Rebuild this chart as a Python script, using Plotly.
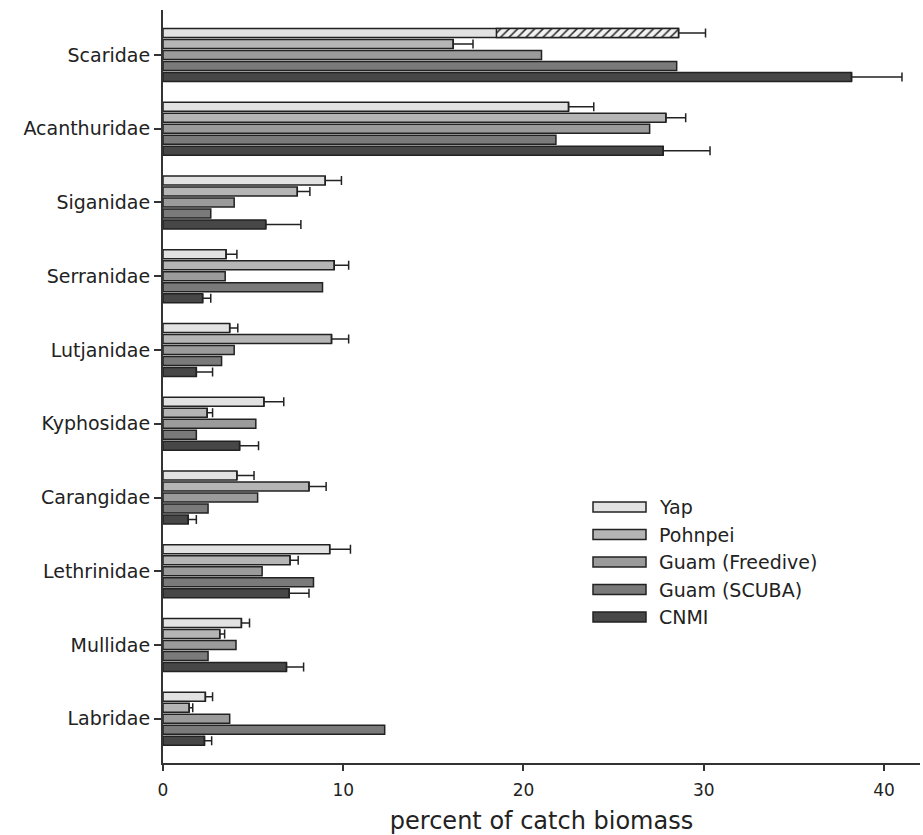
import plotly.graph_objects as go

families = ["Scaridae", "Acanthuridae", "Siganidae", "Serranidae", "Lutjanidae",
            "Kyphosidae", "Carangidae", "Lethrinidae", "Mullidae", "Labridae"]

series_names = ["Yap", "Pohnpei", "Guam (Freedive)", "Guam (SCUBA)", "CNMI"]

yap = [28.6, 22.5, 9.0, 3.5, 3.7, 5.6, 4.1, 9.25, 4.35, 2.35]
yap_err = [1.5, 1.4, 0.9, 0.6, 0.45, 1.1, 0.95, 1.15, 0.45, 0.4]
yap_hatch_start = [18.5, None, None, None, None, None, None, None, None, None]

pohnpei = [16.1, 27.9, 7.45, 9.5, 9.35, 2.45, 8.1, 7.05, 3.15, 1.45]
pohnpei_err = [1.1, 1.1, 0.7, 0.8, 0.95, 0.3, 0.95, 0.45, 0.27, 0.2]

guam_freedive = [21.0, 27.0, 3.95, 3.45, 3.95, 5.15, 5.25, 5.5, 4.05, 3.7]
guam_scuba = [28.5, 21.8, 2.65, 8.85, 3.25, 1.85, 2.5, 8.35, 2.5, 12.3]

cnmi = [38.2, 27.75, 5.7, 2.2, 1.85, 4.25, 1.4, 7.0, 6.85, 2.3]
cnmi_err = [2.8, 2.6, 1.95, 0.45, 0.9, 1.05, 0.45, 1.1, 0.95, 0.4]

colors = ["#e2e2e2", "#b5b5b5", "#9b9b9b", "#7a7a7a", "#474747"]
edge = "#222222"
font_fam = "DejaVu Sans, Liberation Sans, Arial, sans-serif"

fig = go.Figure()

def errx(vals):
    if vals is None:
        return None
    return dict(type="data", array=vals, arrayminus=[0] * len(vals), symmetric=False,
                color=edge, thickness=1.5, width=4.5)

values = [yap, pohnpei, guam_freedive, guam_scuba, cnmi]
errs = [yap_err, pohnpei_err, None, None, cnmi_err]
groups = ["yap", "pohnpei", "gf", "gs", "cnmi"]

for name, vals, err, col, grp in zip(series_names, values, errs, colors, groups):
    fig.add_trace(go.Bar(
        y=families, x=vals, orientation="h", name=name, offsetgroup=grp,
        marker=dict(color=col, line=dict(color=edge, width=1.5)),
        error_x=errx(err), showlegend=False,
    ))
    if grp == "yap":
        hy, hx, hb = [], [], []
        for f, v, s in zip(families, yap, yap_hatch_start):
            if s is not None:
                hy.append(f)
                hx.append(v - s)
                hb.append(s)
        fig.add_trace(go.Bar(
            y=hy, x=hx, base=hb, orientation="h", name="Yap (hatched)", offsetgroup="yap",
            marker=dict(color="#f2f2f2", line=dict(color=edge, width=1.5),
                        pattern=dict(shape="/", fgcolor="#222222", bgcolor="#f2f2f2",
                                     size=6, solidity=0.25, fillmode="replace")),
            showlegend=False,
        ))

# custom legend (paper coordinates)
W, H = 923, 835
ml, mr, mt, mb = 163, 3, 10, 72
pw, ph = W - ml - mr, H - mt - mb

def px_x(x):
    return (x - ml) / pw

def px_y(y):
    return 1 - (y - mt) / ph

leg_rows = [507, 534.5, 562, 589.5, 617]
for name, col, yc in zip(series_names, colors, leg_rows):
    fig.add_shape(type="rect", xref="paper", yref="paper",
                  x0=px_x(593), x1=px_x(646), y0=px_y(yc + 5), y1=px_y(yc - 5),
                  fillcolor=col, line=dict(color=edge, width=1.5))
    fig.add_annotation(xref="paper", yref="paper", x=px_x(657), y=px_y(yc),
                       xanchor="left", yanchor="middle", text=name, showarrow=False,
                       font=dict(family=font_fam, size=19, color="#222222"))

fig.update_layout(
    width=W, height=H,
    margin=dict(l=ml, r=mr, t=mt, b=mb),
    paper_bgcolor="white", plot_bgcolor="white",
    barmode="group", bargap=0.255, bargroupgap=0.18,
    font=dict(family=font_fam, color="#222222"),
    showlegend=False,
)
fig.update_xaxes(
    range=[0, 42], tickvals=[0, 10, 20, 30, 40], showgrid=False, zeroline=False,
    showline=True, linecolor="#333333", linewidth=2,
    ticks="outside", ticklen=6, tickwidth=1.5, tickcolor="#333333",
    ticklabelstandoff=5,
    tickfont=dict(family=font_fam, size=17, color="#222222"),
    title=dict(text="percent of catch biomass", standoff=14,
               font=dict(family=font_fam, size=24, color="#222222")),
)
fig.update_yaxes(
    type="category", categoryorder="array", categoryarray=families,
    range=[9.6, -0.61], showgrid=False, zeroline=False,
    showline=True, linecolor="#333333", linewidth=2,
    ticks="outside", ticklen=7, tickwidth=1.5, tickcolor="#333333",
    tickfont=dict(family=font_fam, size=19, color="#222222"),
)

fig.write_html("out.html")
